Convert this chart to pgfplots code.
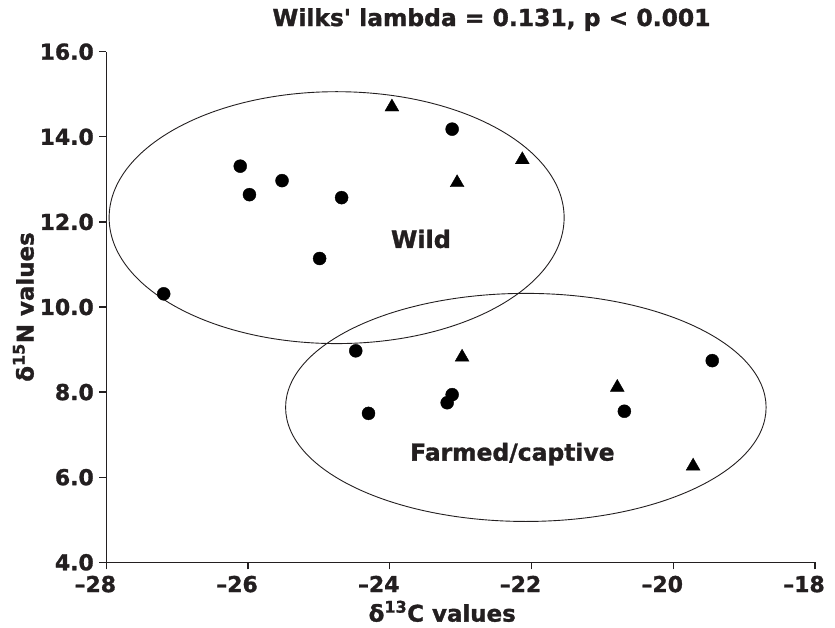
\documentclass[border=0pt]{standalone}
\usepackage{fontspec}
\setmainfont{DejaVu Sans}[BoldFeatures={FakeBold=1.3}]
\usepackage{pgfplots}
\pgfplotsset{compat=1.18}
\definecolor{ink}{RGB}{35,31,32}
\pgfplotstableread{
x y
-26.11 13.31
-25.98 12.64
-25.52 12.97
-24.68 12.57
-24.99 11.14
-27.19 10.31
-23.12 14.18
-24.48 8.97
-24.30 7.50
-23.12 7.94
-23.19 7.75
-20.69 7.55
-19.45 8.74
}\circles
\pgfplotstableread{
x y
-23.97 14.70
-22.13 13.46
-23.05 12.92
-22.98 8.82
-20.79 8.11
-19.72 6.26
}\triangles
\begin{document}
\begin{tikzpicture}
\begin{axis}[
  width=708.7bp, height=510.6bp, scale only axis,
  xmin=-28, xmax=-18, ymin=4, ymax=16,
  axis lines=left,
  axis line style={-, line width=1.5bp, ink},
  xtick={-28,-26,-24,-22,-20,-18},
  xticklabels={–28,–26,–24,–22,–20,–18},
  ytick={4,6,8,10,12,14,16},
  yticklabels={4.0,6.0,8.0,10.0,12.0,14.0,16.0},
  tick align=outside, major tick length=7bp,
  tick style={line width=1.3bp, ink},
  x tick label style={font=\fontsize{22}{22}\selectfont\bfseries, text=ink, xshift=-11bp, yshift=-3bp},
  y tick label style={font=\fontsize{22}{22}\selectfont\bfseries, text=ink, xshift=-2bp},
  xlabel={δ\textsuperscript{13}C values},
  ylabel={δ\textsuperscript{15}N values},
  xlabel style={font=\fontsize{23}{23}\selectfont\bfseries, text=ink, at={(axis description cs:0.474,-0.096)}, anchor=center},
  ylabel style={font=\fontsize{23}{23}\selectfont\bfseries, text=ink, at={(axis description cs:-0.117,0.5)}, anchor=center, rotate=0},
  title={Wilks\textquotesingle{} lambda = 0.131, p < 0.001},
  title style={font=\fontsize{23.5}{23.5}\selectfont\bfseries, text=ink, at={(axis description cs:0.5435,1.0386)}, anchor=base},
  clip=false,
]
\draw[line width=0.9bp, ink] (axis cs:-24.75,12.10) ellipse [x radius=3.21, y radius=2.96];
\draw[line width=0.9bp, ink] (axis cs:-22.08,7.64) ellipse [x radius=3.39, y radius=2.68];
\addplot[only marks, mark=*, mark size=6.5bp, mark options={fill=black, draw=black}] table[x=x,y=y] {\circles};
\addplot[only marks, mark=triangle*, mark size=8bp, mark options={fill=black, draw=black}] table[x=x,y=y] {\triangles};
\node[font=\fontsize{24}{24}\selectfont\bfseries, text=ink, anchor=base] at (axis cs:-23.56,11.39) {Wild};
\node[font=\fontsize{23.5}{23.5}\selectfont\bfseries, text=ink, anchor=base] at (axis cs:-22.27,6.39) {Farmed/captive};
\end{axis}
\useasboundingbox ([xshift=-106.3bp,yshift=-65.7bp]current axis.south west) rectangle ([xshift=728.7bp,yshift=562.3bp]current axis.south west);
\end{tikzpicture}
\end{document}
